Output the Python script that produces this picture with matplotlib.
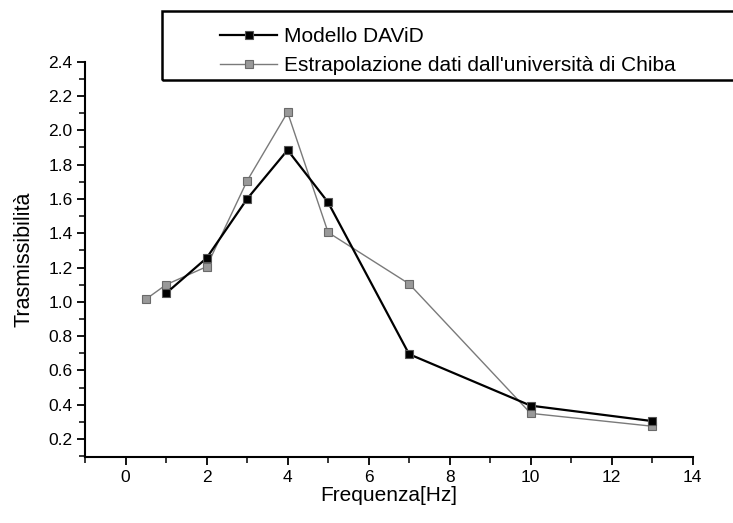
import numpy as np
import matplotlib.pyplot as plt
from matplotlib.patches import Rectangle
from matplotlib.ticker import MultipleLocator, FormatStrFormatter

plt.rcParams['font.family'] = ['Liberation Sans', 'DejaVu Sans']

# ===== dati =====
freq_david = [1, 2, 3, 4, 5, 7, 10, 13]
tras_david = [1.05, 1.255, 1.60, 1.885, 1.58, 0.695, 0.395, 0.305]

freq_chiba = [0.5, 1, 2, 3, 4, 5, 7, 10, 13]
tras_chiba = [1.015, 1.10, 1.205, 1.705, 2.105, 1.405, 1.105, 0.35, 0.275]

label_david = "Modello DAViD"
label_chiba = "Estrapolazione dati dall'università di Chiba"

# ===== figura =====
fig = plt.figure(figsize=(7.33, 5.23), dpi=100)
ax = fig.add_axes([0.116, 0.126, 0.829, 0.756])

l1, = ax.plot(freq_david, tras_david, color='black', lw=1.6,
              marker='s', ms=6, mfc='black', mec='#555555', mew=0.8)
l2, = ax.plot(freq_chiba, tras_chiba, color='#7a7a7a', lw=1.0,
              marker='s', ms=6, mfc='#999999', mec='#6a6a6a', mew=0.8,
              zorder=1)

ax.set_xlim(-1, 14)
ax.set_ylim(0.095, 2.4)
ax.xaxis.set_major_locator(MultipleLocator(2))
ax.xaxis.set_minor_locator(MultipleLocator(1))
ax.yaxis.set_minor_locator(MultipleLocator(0.1))
ax.set_yticks(np.arange(0.2, 2.41, 0.2))
ax.yaxis.set_major_formatter(FormatStrFormatter('%.1f'))

for s in ['top', 'right']:
    ax.spines[s].set_visible(False)
for s in ['left', 'bottom']:
    ax.spines[s].set_linewidth(1.5)

ax.tick_params(which='major', direction='out', length=6, width=1.3,
               labelsize=12.5, pad=3)
ax.tick_params(which='minor', direction='out', length=4, width=1.1)

ax.set_xlabel('Frequenza[Hz]', fontsize=15, labelpad=1)
ax.set_ylabel('Trasmissibilità', fontsize=15.5, labelpad=10)

# ===== legenda (riquadro che esce a destra) =====
fig.patches.append(Rectangle((161.7/733, 1 - 80/523), 0.9, 69/523,
                             transform=fig.transFigure, fill=False,
                             edgecolor='black', lw=1.8))
fig.legend([l1, l2], [label_david, label_chiba], loc='upper left',
           bbox_to_anchor=(210/733, 1 - 17/523), frameon=False,
           fontsize=15, handlelength=2.7, handletextpad=0.35,
           labelspacing=0.47, borderpad=0)

fig.savefig('out.png', dpi=100)
